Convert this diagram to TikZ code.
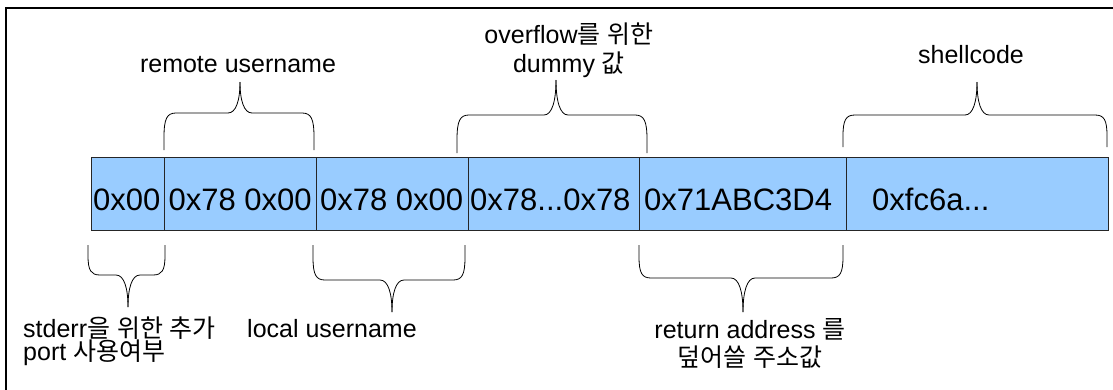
\documentclass[tikz,border=0pt]{standalone}
\usepackage{fontspec}
\setmainfont{Liberation Sans}
\newfontfamily\kr{Noto Sans CJK KR}
\newcommand{\K}[1]{{\kr #1}}
% brace: x1, x2, xtip, yend, yhoriz, ytip
\newcommand{\mybrace}[6]{%
  \draw[bracepath] (#1,#4) -- (#1,{#4+0.35*(#5-#4)})
    .. controls (#1,{#5+0.15*(#4-#5)}) and ({#1+3},#5) .. ({#1+12},#5)
    -- ({#3-12},#5) .. controls ({#3-4},#5) and (#3,{#5+0.4*(#6-#5)}) .. (#3,#6);
  \draw[bracepath] (#2,#4) -- (#2,{#4+0.35*(#5-#4)})
    .. controls (#2,{#5+0.15*(#4-#5)}) and ({#2-3},#5) .. ({#2-12},#5)
    -- ({#3+12},#5) .. controls ({#3+4},#5) and (#3,{#5+0.4*(#6-#5)}) .. (#3,#6);
}
\tikzset{
  cell/.style={draw=black!85, line width=1pt, fill={rgb,255:red,153;green,204;blue,255},
    minimum height=73pt, inner sep=0pt, outer sep=0pt},
  val/.style={font=\fontsize{31}{36}\selectfont, inner sep=0pt, anchor=base west},
  lab/.style={inner sep=0pt},
  bracepath/.style={draw=black, line width=0.8pt},
  frame/.style={draw=black, line width=2.5pt}
}
\begin{document}
\begin{tikzpicture}[x=1pt,y=-1pt]
\useasboundingbox (0,0) rectangle (1113,389);
\fill[white] (0,0) rectangle (1113,389);
\draw[frame] (6,395) -- (6,8) -- (1120,8);

% cells
\node[cell, minimum width=73pt]  (c1) at (127.5,193.5) {};
\node[cell, minimum width=152pt] (c2) at (240,193.5) {};
\node[cell, minimum width=152pt] (c3) at (392,193.5) {};
\node[cell, minimum width=171pt] (c4) at (553.5,193.5) {};
\node[cell, minimum width=207pt] (c5) at (742.5,193.5) {};
\node[cell, minimum width=262pt] (c6) at (977,193.5) {};

% values
\node[val] (v1) at (93,210) {0x00};
\node[val] (v2) at (168.5,210) {0x78 0x00};
\node[val] (v3) at (320,210) {0x78 0x00};
\node[val] (v4) at (470,210) {0x78...0x78};
\node[val] (v5) at (644,210) {0x71ABC3D4};
\node[val] (v6) at (872,210) {0xfc6a...};

% top braces
\mybrace{164}{314}{240}{150}{113}{82}
\mybrace{457}{647}{556}{153}{115}{80}
\mybrace{843}{1107}{977}{147}{115}{82}
% bottom braces
\mybrace{88}{165}{128}{245}{275}{307}
\mybrace{313}{465}{392}{245}{280}{312}
\mybrace{639}{843}{743}{245}{278}{312}

% labels
\node[lab, anchor=base, font=\fontsize{25}{29}\selectfont] (lremote) at (238,72) {remote username};
\node[lab, anchor=base, align=center, font=\fontsize{25}{29}\selectfont] (ldummy) at (569,72) {overflow\K{를} \K{위한}\\dummy \K{값}};
\node[lab, anchor=base, font=\fontsize{25}{29}\selectfont] (lshell) at (971,63) {shellcode};
\node[lab, anchor=base west, align=left, font=\fontsize{25}{23}\selectfont] (lstderr) at (23,360) {stderr\K{을} \K{위한} \K{추가}\\port \K{사용여부}};
\node[lab, anchor=base west, font=\fontsize{25}{29}\selectfont] (llocal) at (247,337) {local username};
\node[lab, anchor=base, align=center, font=\fontsize{25}{28}\selectfont] (lret) at (750,366) {return address \K{를}\\\K{덮어쓸} \K{주소값}};
\end{tikzpicture}
\end{document}
